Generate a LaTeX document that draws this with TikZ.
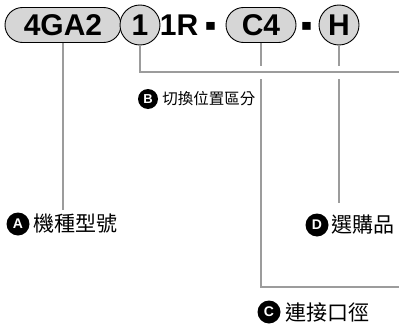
\documentclass[tikz,border=0pt]{standalone}
\usepackage{fontspec}
\setmainfont{Liberation Sans}
\newfontfamily\cjk{Noto Sans CJK TC}
\usetikzlibrary{positioning}
\definecolor{codegray}{HTML}{D6D6D6}
\definecolor{leadgray}{HTML}{9C9C9C}
\newcommand{\codedash}{\raisebox{-8pt}{\scalebox{1.1}[2.2]{-}}}
\tikzset{
  codefont/.style={font=\fontsize{30}{30}\selectfont\bfseries},
  pill/.style={draw=black, line width=0.9pt, fill=codegray, rounded corners=17.5pt,
    minimum height=35pt, inner sep=0pt, codefont},
  ring/.style={draw=black, line width=0.9pt, fill=codegray, circle,
    minimum size=40pt, inner sep=0pt, codefont},
  lead/.style={draw=leadgray, line width=1.8pt},
  badge/.style={circle, fill=black, text=white, minimum size=23pt, inner sep=0pt,
    font=\fontsize{14}{14}\selectfont\bfseries},
  caption/.style={font=\cjk\fontsize{21}{21}\selectfont, inner sep=0pt}
}
\begin{document}
\begin{tikzpicture}[x=1pt, y=-1pt]
    \useasboundingbox (0,0) rectangle (399,324);
    % model code
    \node[pill, minimum width=116pt] (pillA) at (63,25) {4GA2};
    \node[ring] (ringB) at (140,25) {1};
    \node[codefont, inner sep=0pt] (fixR) at (179,25) {1R};
    \node[codefont, inner sep=0pt, anchor=base] (dashA) at ([xshift=32pt]fixR.base) {\codedash};
    \node[pill, minimum width=70pt] (pillC) at (261,25) {C4};
    \node[codefont, inner sep=0pt, anchor=base] (dashB) at ([xshift=128pt]fixR.base) {\codedash};
    \node[ring] (ringD) at (339,25) {H};
    % end points and gap
    \coordinate (endA) at (63,210);
    \coordinate (endB) at (399,72);
    \coordinate (endC) at (399,287);
    \coordinate (endD) at (339,203);
    \coordinate (gapTop) at (0,66);
    \coordinate (gapBot) at (0,79);
    % leader lines
    \draw[lead] (pillA.south) -- (endA);
    \draw[lead] (ringB.south) |- (endB);
    \draw[lead] (pillC.south) -- (pillC.south |- gapTop);
    \draw[lead] (pillC.south |- gapBot) |- (endC);
    \draw[lead] (ringD.south) -- (ringD.south |- gapTop);
    \draw[lead] (ringD.south |- gapBot) -- (endD);
    % captions
    \node[badge] (badgeA) at (18,224) {A};
    \node[caption, anchor=west, right=4pt of badgeA] (textA) {機種型號};
    \node[badge, minimum size=20pt, font=\fontsize{13}{13}\selectfont\bfseries] (badgeB) at (148,99) {B};
    \node[caption, font=\cjk\fontsize{15.5}{15.5}\selectfont, anchor=west, right=4pt of badgeB] (textB) {切換位置區分};
    \node[badge] (badgeC) at (269,312) {C};
    \node[caption, anchor=west, right=5pt of badgeC] (textC) {連接口徑};
    \node[badge] (badgeD) at (317,225) {D};
    \node[caption, anchor=west, right=3pt of badgeD] (textD) {選購品};
\end{tikzpicture}
\end{document}
